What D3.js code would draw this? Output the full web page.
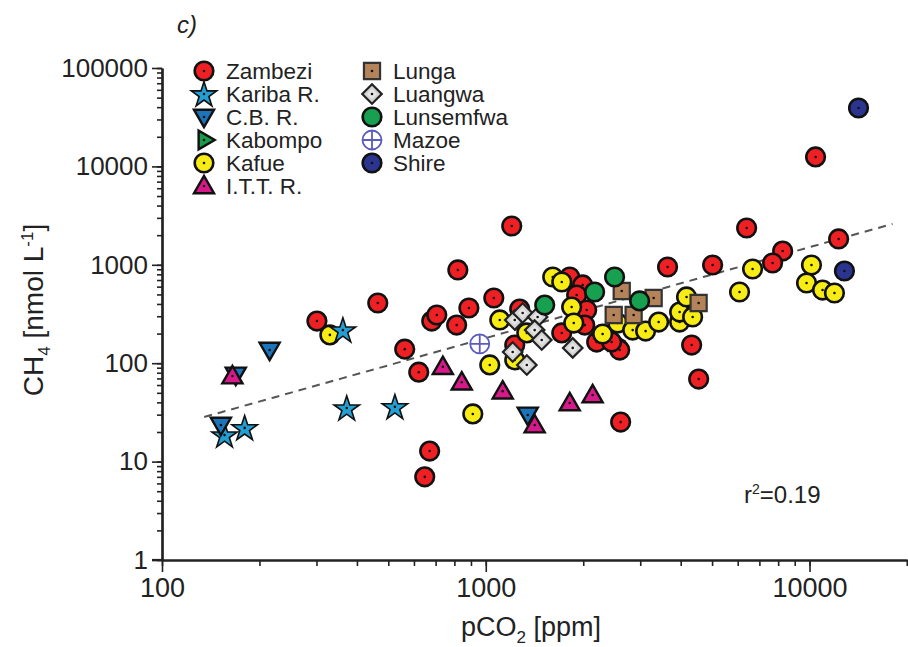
<!DOCTYPE html>
<html><head><meta charset="utf-8">
<script src="https://cdn.jsdelivr.net/npm/d3@7"></script>
<style>body{margin:0;background:#fff}svg{display:block}text{font-family:"Liberation Sans",Arial,sans-serif;fill:#222}</style>
</head><body>
<svg id="c" width="908" height="647"></svg>
<script>
// ---- data (pCO2 [ppm], CH4 [nmol/L]) ----
const zambezi = [[301,268],[464,409],[820,886],[1203,2478],[562,139],[621,81],[671,12.8],[648,7.0],[681,268],[706,309],[813,244],[887,364],[1059,460],[1273,355],[1817,752],[1992,624],[1909,493],[2050,347],[2022,244],[1717,203],[2201,164],[2593,136],[1229,153],[2448,164],[6394,2365],[3644,950],[5020,995],[8260,1380],[7690,1043],[12300,1830],[4325,153],[4546,69],[2610,25.2],[10440,12470]];
const kafue = [[330,194],[912,30.5],[1029,96],[1105,275],[1339,203],[1229,108],[1610,752],[1717,669],[1842,372],[1870,256],[2296,198],[2555,256],[2843,217],[3117,212],[3420,262],[3970,262],[3970,331],[4170,471],[4355,295],[6670,906],[6080,529],[10140,995],[9790,653],[10970,554],[11940,517]];
const luangwa = [[1229,275],[1300,324],[1446,295],[1416,217],[1489,172],[1211,130],[1339,96],[1856,143]];
const lunga = [[2630,542],[3300,460],[2484,309],[2862,309],[4544,409]];
const lunsemfwa = [[1521,390],[2169,529],[2500,752],[2987,429]];
const kabompo = [[2480,168]];
const kariba = [[362,217],[372,35],[524,36],[180,22],[156,18.6]];
const cbr = [[215,136],[169,76],[152,23.5],[1348,29.8]];
const ittr = [[165,74],[737,92],[843,64],[1128,52],[1416,23.5],[1817,39.4],[2138,47.5]];
const mazoe = [[958,157]];
const shire = [[14170,39200],[12820,865]];
// regression: log10(CH4) = a + b*log10(pCO2)
const trendCoef = {a:-0.513, b:0.923};
const trendRange = [135, 18040];
const r2Label = "0.19";
const yTickValues = [1,10,100,1000,10000,100000];
const xTickValues = [100,1000,10000];

const svg = d3.select("#c");
const x = d3.scaleLog().domain([100,20000]).range([162,907]);
const y = d3.scaleLog().domain([1,100000]).range([560,68]);

// axes
const xMinor = [];
for (let d=100; d<=10000; d*=10) for (let k=1;k<10;k++){ if(d*k<=20000) xMinor.push(d*k); }
xMinor.push(20000);
const yMinor = [];
for (let d=1; d<100000; d*=10) for (let k=1;k<10;k++) yMinor.push(d*k);
yMinor.push(100000);

const gx = svg.append("g").attr("transform","translate(0,560)");
gx.call(d3.axisBottom(x).tickValues(xMinor).tickFormat("").tickSize(6).tickSizeOuter(0));
gx.append("g").call(d3.axisBottom(x).tickValues(xTickValues).tickFormat(d3.format("d")).tickSize(12).tickPadding(6).tickSizeOuter(0));
const gy = svg.append("g").attr("transform","translate(162,0)");
gy.call(d3.axisLeft(y).tickValues(yMinor).tickFormat("").tickSize(5).tickSizeOuter(0));
gy.append("g").call(d3.axisLeft(y).tickValues(yTickValues).tickFormat(d3.format("d")).tickSize(10).tickPadding(4).tickSizeOuter(0));
svg.selectAll(".domain").attr("stroke","#222").attr("stroke-width",2.2);
svg.selectAll(".tick line").attr("stroke","#222").attr("stroke-width",1.6);
svg.selectAll(".tick text").style("font-size","26px").style("fill","#222").attr("font-family",null);
gx.selectAll(".tick text").style("font-size","27px");
svg.append("line").attr("x1",152).attr("x2",163).attr("y1",560).attr("y2",560).attr("stroke","#222").attr("stroke-width",2.2);

// trend line
const tl = d3.range(0,41).map(i=>{const lx=Math.log10(trendRange[0])+(Math.log10(trendRange[1])-Math.log10(trendRange[0]))*i/40; return [Math.pow(10,lx), Math.pow(10,trendCoef.a+trendCoef.b*lx)];});
svg.append("path").attr("d",d3.line().x(d=>x(d[0])).y(d=>y(d[1]))(tl))
  .attr("fill","none").attr("stroke","#555").attr("stroke-width",2).attr("stroke-dasharray","8,6");

// symbols
const styles = {
  zambezi:{fill:"#ee2024",shape:"circle",dot:true},
  kariba:{fill:"#239fd4",shape:"star",dot:true},
  cbr:{fill:"#1c74bb",shape:"tridown",dot:true},
  kabompo:{fill:"#1a9a4a",shape:"triright",dot:true},
  kafue:{fill:"#f7ec13",shape:"circle",dot:true},
  ittr:{fill:"#d8198a",shape:"triup",dot:true},
  lunga:{fill:"#b5835a",shape:"square",dot:true},
  luangwa:{fill:"#d4d4d4",shape:"diamond",dot:true},
  lunsemfwa:{fill:"#17a04f",shape:"circle",dot:false},
  mazoe:{fill:"none",shape:"mazoe",dot:false},
  shire:{fill:"#2b3590",shape:"circle",dot:true}
};
function drawSym(g, st){
  if(st.shape==="circle"){
    g.append("circle").attr("r",9.3).attr("fill",st.fill).attr("stroke","#111").attr("stroke-width",2.6);
  } else if(st.shape==="star"){
    g.append("path").attr("d",d3.symbol(d3.symbolStar,200)()).attr("transform","translate(0,1)").attr("fill",st.fill).attr("stroke","#111").attr("stroke-width",1.6);
  } else if(st.shape==="triup"){
    g.append("path").attr("d",d3.symbol(d3.symbolTriangle,175)()).attr("transform","translate(0,1.5)").attr("fill",st.fill).attr("stroke","#111").attr("stroke-width",2.4);
  } else if(st.shape==="tridown"){
    g.append("path").attr("d",d3.symbol(d3.symbolTriangle,175)()).attr("transform","translate(0,-1.5) rotate(180)").attr("fill",st.fill).attr("stroke","#111").attr("stroke-width",2.4);
  } else if(st.shape==="triright"){
    g.append("path").attr("d",d3.symbol(d3.symbolTriangle,150)()).attr("transform","rotate(90)").attr("fill",st.fill).attr("stroke","#111").attr("stroke-width",2.4);
  } else if(st.shape==="square"){
    g.append("path").attr("d",d3.symbol(d3.symbolSquare,260)()).attr("fill",st.fill).attr("stroke","#333").attr("stroke-width",2.2);
  } else if(st.shape==="diamond"){
    g.append("path").attr("d",d3.symbol(d3.symbolSquare,190)()).attr("transform","rotate(45)").attr("fill",st.fill).attr("stroke","#222").attr("stroke-width",2.2);
    g.append("path").attr("d",d3.symbol(d3.symbolSquare,50)()).attr("transform","rotate(45)").attr("fill","#e6e6e6").attr("stroke","none");
  } else if(st.shape==="mazoe"){
    g.append("circle").attr("r",9.5).attr("fill","#fff").attr("stroke","#5b5bc0").attr("stroke-width",1.8);
    g.append("path").attr("d","M-9.5,0H9.5M0,-9.5V9.5").attr("stroke","#5b5bc0").attr("stroke-width",1.8);
  }
  if(st.dot) g.append("circle").attr("r",1.3).attr("fill","#111");
}
const series = [["kabompo",kabompo],["zambezi",zambezi],["kafue",kafue],["luangwa",luangwa],["lunga",lunga],["lunsemfwa",lunsemfwa],["kariba",kariba],["cbr",cbr],["ittr",ittr],["mazoe",mazoe],["shire",shire]];
const pts = svg.append("g");
series.forEach(([k,data])=>{
  data.forEach(d=>{
    const g = pts.append("g").attr("transform",`translate(${x(d[0])},${y(d[1])})`);
    drawSym(g, styles[k]);
  });
});

// legend
const leg1 = [["zambezi","Zambezi"],["kariba","Kariba R."],["cbr","C.B. R."],["kabompo","Kabompo"],["kafue","Kafue"],["ittr","I.T.T. R."]];
const leg2 = [["lunga","Lunga"],["luangwa","Luangwa"],["lunsemfwa","Lunsemfwa"],["mazoe","Mazoe"],["shire","Shire"]];
function legend(items, sx, tx){
  items.forEach(([k,label],i)=>{
    const yy = 71 + i*23;
    const g = svg.append("g").attr("transform",`translate(${sx},${yy})`);
    drawSym(g, styles[k]);
    svg.append("text").attr("x",tx).attr("y",yy+8).style("font-size","22.5px").text(label);
  });
}
legend(leg1, 204, 226);
legend(leg2, 372, 393);

// labels
svg.append("text").attr("x",177).attr("y",33).style("font-size","24px").style("font-style","italic").text("c)");
const r2 = svg.append("text").attr("x",744).attr("y",503).style("font-size","24px");
r2.append("tspan").text("r");
r2.append("tspan").attr("dy",-9).style("font-size","14px").text("2");
r2.append("tspan").attr("dy",9).text("="+r2Label);

const xt = svg.append("text").attr("x",531).attr("y",636).attr("text-anchor","middle").style("font-size","27px");
xt.append("tspan").text("pCO");
xt.append("tspan").attr("dy",7).style("font-size","17px").text("2");
xt.append("tspan").attr("dy",-7).text(" [ppm]");

const yt = svg.append("text").attr("transform","translate(43,310) rotate(-90)").attr("text-anchor","middle").style("font-size","28px");
yt.append("tspan").text("CH");
yt.append("tspan").attr("dy",7).style("font-size","17px").text("4");
yt.append("tspan").attr("dy",-7).text(" [nmol L");
yt.append("tspan").attr("dy",-10).style("font-size","17px").text("-1");
yt.append("tspan").attr("dy",10).text("]");
</script>
</body></html>
